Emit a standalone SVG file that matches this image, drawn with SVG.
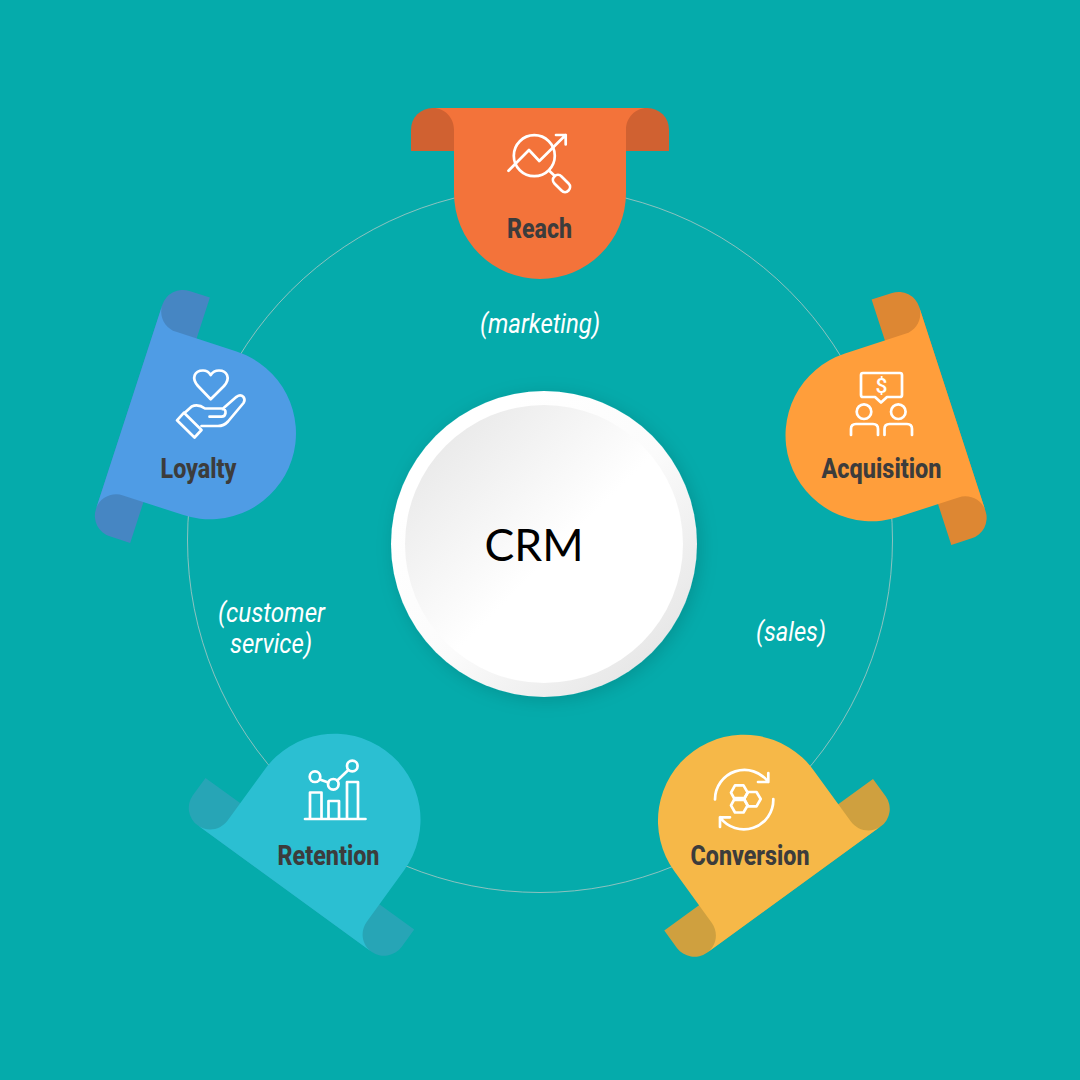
<svg xmlns="http://www.w3.org/2000/svg" width="1080" height="1080" viewBox="0 0 1080 1080">
<style>
.lbl{font-family:Roboto,"Liberation Sans",sans-serif;font-weight:800;font-size:27.5px;fill:#3c3c3c;text-anchor:middle}
.note{font-family:Roboto,"Liberation Sans",sans-serif;font-weight:400;font-style:italic;font-size:27px;fill:#fff;text-anchor:middle}
.ic{fill:none;stroke:#fff;stroke-width:2.7;stroke-linecap:round;stroke-linejoin:round}
</style>
<defs>
<path id="curl" d="M411,151V129.500A21.500,21.500 0 0 1 432.500,108H647.500A21.500,21.500 0 0 1 669,129.500V151Z"/>
<path id="body" d="M433,108H647C635,108 626,118 626,129.500V193A86,86 0 0 1 454,193V129.500C454,118 445,108 433,108Z"/>
<linearGradient id="rim" x1="0.15" y1="0.15" x2="0.85" y2="0.85"><stop offset="0.1" stop-color="#fff"/><stop offset="0.55" stop-color="#fbfbfb"/><stop offset="1" stop-color="#e8e8e8"/></linearGradient>
<linearGradient id="face" x1="0.15" y1="0.15" x2="0.85" y2="0.85"><stop offset="0" stop-color="#ebebeb"/><stop offset="0.55" stop-color="#fff"/></linearGradient>
<filter id="sh" x="-20%" y="-20%" width="140%" height="140%"><feDropShadow dx="3" dy="3" stdDeviation="9" flood-color="#000" flood-opacity="0.15"/></filter>
</defs>
<rect width="1080" height="1080" fill="#05abab"/>
<g id="connectors"><circle cx="540" cy="540" r="352.500" fill="none" stroke="#b9c9c6" stroke-opacity="0.75" stroke-width="1"/></g>
<g id="node-crm">
<circle cx="544" cy="544" r="153" fill="url(#rim)" filter="url(#sh)"/>
<circle cx="544" cy="544" r="139" fill="url(#face)"/>
<text x="534" y="560.500" font-family="Lato,'Liberation Sans',sans-serif" font-size="45" fill="#000" text-anchor="middle" textLength="99" lengthAdjust="spacingAndGlyphs">CRM</text>
</g>
<g id="node-reach">
<use href="#curl" fill="#d06131"/><use href="#body" fill="#f3733a"/>
<g class="ic"><circle cx="534.300" cy="155.700" r="20.500"/><path d="M508.500,170.700L529,150L539.300,161L565.700,135M556,135H565.700V144.500M549.500,171L554,175.300"/><rect x="551.500" y="178.500" width="20" height="10" rx="5" transform="rotate(45 561.500 183.500)"/></g>
<text class="lbl" x="539.500" y="238" textLength="65" lengthAdjust="spacingAndGlyphs">Reach</text>
</g>
<g id="node-acquisition">
<g transform="translate(1.500 2.500) rotate(72 540 540)"><use href="#curl" fill="#dd8733"/><use href="#body" fill="#ff9e3b"/></g>
<g class="ic"><path d="M863,373H900Q902,373 902,375V395Q902,397 900,397H887L881,402.500L875,397H863Q861,397 861,395V375Q861,373 863,373Z"/><circle cx="864" cy="411.700" r="7.300"/><circle cx="898.300" cy="411.700" r="7.300"/><path d="M851,434V428Q851,423 856,423H873Q878,423 878,428V434M884.500,434V428Q884.500,423 889.500,423H907Q912,423 912,428V434" transform="translate(0,1)"/></g>
<text x="881.500" y="393" font-family="Roboto,'Liberation Sans',sans-serif" font-size="21" font-weight="500" fill="#fff" text-anchor="middle">$</text>
<text class="lbl" x="881.500" y="478" textLength="120" lengthAdjust="spacingAndGlyphs">Acquisition</text>
</g>
<g id="node-conversion">
<g transform="rotate(144 540 540)"><use href="#curl" fill="#cfa03f"/><use href="#body" fill="#f6b848"/></g>
<g class="ic"><path d="M731,792.700L735,785.300H743.500L747.700,792.700L743.500,800H735Z"/><path d="M744,799L748,792H756.500L760.700,799L756.500,806.300H748Z"/><path d="M731,805.300L735,798H743.500L747.700,805.300L743.500,812.500H735Z"/><path d="M715,799.500A29.500,29.500 0 0 1 768.300,782M768.300,773V782H758"/><path d="M773.300,799A29.500,29.500 0 0 1 720,817.300M720,827V817.300H730"/></g>
<text class="lbl" x="750" y="865" textLength="119" lengthAdjust="spacingAndGlyphs">Conversion</text>
</g>
<g id="node-retention">
<g transform="translate(-1.500 -1) rotate(216 540 540)"><use href="#curl" fill="#27a5b6"/><use href="#body" fill="#2bbfd2"/></g>
<g class="ic"><path d="M305,819H365.500M310,819V792.500H321.500V819M328.500,819V801H339V819M347,819V782H358V819M319.800,779.500L328.300,782.500M337.300,780.500L348.300,770"/><circle cx="315" cy="776.700" r="5.300"/><circle cx="333.300" cy="784.300" r="5.300"/><circle cx="352.300" cy="766" r="5.300"/></g>
<text class="lbl" x="328.500" y="865" textLength="102" lengthAdjust="spacingAndGlyphs">Retention</text>
</g>
<g id="node-loyalty">
<g transform="translate(0 0.500) rotate(288 540 540)"><use href="#curl" fill="#4686c3"/><use href="#body" fill="#4f9ce5"/></g>
<g class="ic"><path d="M210.700,399.300L198,386C191,378 194.500,370.500 203,370.500C206,370.500 209,372 210.700,375C212.500,372 215.500,370.500 219,370.500C227,370.500 231,378 224,386Z"/><path d="M177,420.300L184,412.700L201.500,430L194.500,437.500Z"/><path d="M184.500,413L191.700,406.500Q198,403.500 205,408.500H221.500Q226,409 225.500,413Q225,416.700 221.500,416.700H209.500M222.500,409L236.500,396.800Q240.500,394 243.500,397Q245.500,400 243.500,403L228,421.500Q224,426 218,426H201.500"/></g>
<text class="lbl" x="198.500" y="478" textLength="76" lengthAdjust="spacingAndGlyphs">Loyalty</text>
</g>
<text class="note" x="540" y="333" textLength="120" lengthAdjust="spacingAndGlyphs">(marketing)</text>
<text class="note" x="791" y="641" textLength="70" lengthAdjust="spacingAndGlyphs">(sales)</text>
<text class="note" x="271.500" y="622" textLength="107" lengthAdjust="spacingAndGlyphs">(customer</text>
<text class="note" x="271" y="653" textLength="82" lengthAdjust="spacingAndGlyphs">service)</text>
</svg>
